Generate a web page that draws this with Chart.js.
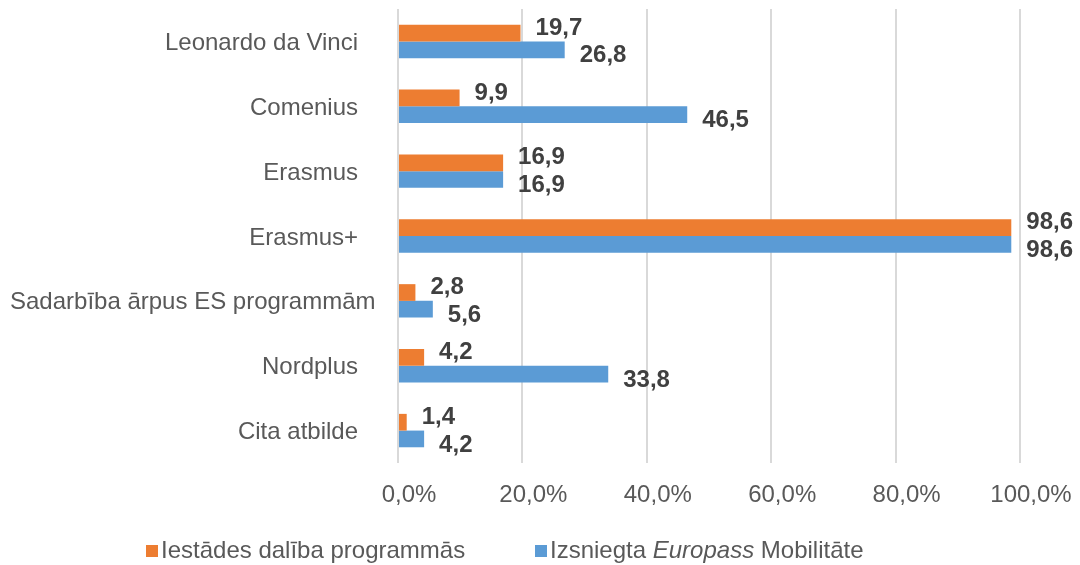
<!DOCTYPE html>
<html>
<head>
<meta charset="utf-8">
<script src="https://cdn.jsdelivr.net/npm/chart.js@4"></script>
<style>
  html, body { margin: 0; padding: 0; background: #fff; }
  #wrap { position: relative; width: 1080px; height: 565px; }
  #legenda { position: absolute; left: 0; top: 536px; width: 1080px; height: 30px;
             font-family: "Liberation Sans", Arial, sans-serif; font-size: 24px; color: #595959; }
  .item { position: absolute; top: 0; white-space: nowrap; }
  .kv { display: inline-block; width: 12px; height: 12px; margin-right: 3px; vertical-align: 1px; }
</style>
</head>
<body>
<div id="wrap">
  <canvas id="grafiks" width="1080" height="565"></canvas>
  <div id="legenda">
    <span class="item" style="left:146px"><span class="kv" style="background:#ED7D31"></span>Iestādes dalība programmās</span>
    <span class="item" style="left:535px"><span class="kv" style="background:#5B9BD5"></span>Izsniegta <i>Europass</i> Mobilitāte</span>
  </div>
</div>
<script>
// Dati
const programmas = ["Leonardo da Vinci", "Comenius", "Erasmus", "Erasmus+", "Sadarbība ārpus ES programmām", "Nordplus", "Cita atbilde"];
const iestadesDaliba = [19.7, 9.9, 16.9, 98.6, 2.8, 4.2, 1.4];
const europassMobilitate = [26.8, 46.5, 16.9, 98.6, 5.6, 33.8, 4.2];
const xTiki = [0, 20, 40, 60, 80, 100];

const fonts = "'Liberation Sans', Arial, sans-serif";
const krasas = { oranzs: "#ED7D31", zils: "#5B9BD5", teksts: "#595959", etikete: "#404040", rezgis: "#D9D9D9" };

function formatet(v, dec) {
    return v.toFixed(dec).replace(".", ",");
}

// vērtību etiķetes pa labi no stabiņiem
const etiketes = {
    id: "etiketes",
    afterDatasetsDraw(chart) {
        const ctx = chart.ctx;
        ctx.save();
        ctx.font = "bold 24px " + fonts;
        ctx.fillStyle = krasas.etikete;
        ctx.textAlign = "left";
        ctx.textBaseline = "middle";
        chart.data.datasets.forEach((ds, di) => {
            const meta = chart.getDatasetMeta(di);
            const dy = di === 0 ? -5 : 6;
            meta.data.forEach((el, i) => {
                ctx.fillText(formatet(ds.data[i], 1), el.x + 15, el.y + dy);
            });
        });
        ctx.restore();
    }
};

// kategoriju nosaukumi: līdzināti pa labi, bet garākais netiek nogriezts
const kategorijas = {
    id: "kategorijas",
    afterDraw(chart) {
        const ctx = chart.ctx;
        const y = chart.scales.y;
        ctx.save();
        ctx.font = "24px " + fonts;
        ctx.fillStyle = krasas.teksts;
        ctx.textAlign = "right";
        ctx.textBaseline = "middle";
        programmas.forEach((nos, i) => {
            const w = ctx.measureText(nos).width;
            const labaisx = Math.max(chart.chartArea.left - 40, 10 + w);
            ctx.fillText(nos, labaisx, y.getPixelForTick(i) + 2);
        });
        ctx.restore();
    }
};

const ctx = document.getElementById("grafiks").getContext("2d");
new Chart(ctx, {
    type: "bar",
    data: {
        labels: programmas,
        datasets: [
            { label: "Iestādes dalība programmās", data: iestadesDaliba, backgroundColor: krasas.oranzs,
              categoryPercentage: 0.515, barPercentage: 1 },
            { label: "Izsniegta Europass Mobilitāte", data: europassMobilitate, backgroundColor: krasas.zils,
              categoryPercentage: 0.515, barPercentage: 1 }
        ]
    },
    options: {
        indexAxis: "y",
        responsive: false,
        animation: false,
        layout: { padding: { top: 9, right: 60, left: 0, bottom: 0 } },
        plugins: {
            legend: { display: false },
            tooltip: { enabled: false }
        },
        scales: {
            x: {
                min: 0,
                max: 100,
                afterBuildTicks: (axis) => { axis.ticks = xTiki.map(v => ({ value: v })); },
                afterFit: (axis) => { axis.height = 102; },
                grid: { color: krasas.rezgis, lineWidth: 2, drawTicks: false },
                border: { display: false },
                ticks: {
                    padding: 18,
                    labelOffset: 11,
                    color: krasas.teksts,
                    font: { family: fonts, size: 24 },
                    callback: (v) => formatet(v, 1) + "%"
                }
            },
            y: {
                afterFit: (axis) => {
                    axis.width = 398;
                    axis.paddingTop = 0;
                    axis.paddingBottom = 0;
                },
                grid: { display: false, drawTicks: false },
                border: { display: false },
                ticks: { display: false }
            }
        }
    },
    plugins: [etiketes, kategorijas]
});
</script>
</body>
</html>
